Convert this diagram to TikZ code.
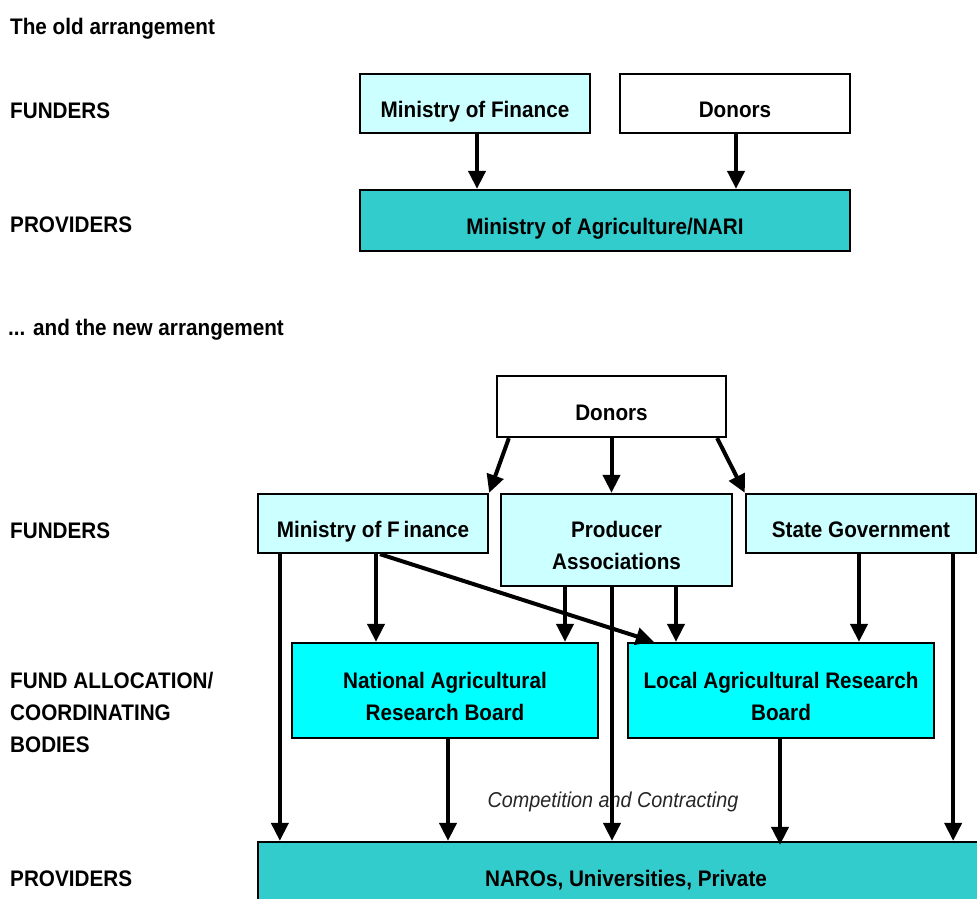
\documentclass[tikz,border=0pt]{standalone}
\usepackage{fontspec}
\setmainfont{Liberation Sans}[FakeStretch=0.92]
\usetikzlibrary{arrows.meta}
\definecolor{lcyan}{HTML}{CCFFFF}
\definecolor{cyanb}{HTML}{00FFFF}
\definecolor{tealb}{HTML}{33CCCC}
\begin{document}
\begin{tikzpicture}[x=1pt,y=-1pt,
  box/.style={draw=black,line width=2.3pt,rectangle,inner sep=0pt,align=center,
    font=\fontsize{22.5}{32}\selectfont\bfseries},
  one/.style={text height=28pt,text depth=0pt},
  two/.style={text height=59pt,text depth=0pt},
  lab/.style={anchor=base west,inner sep=0pt,align=left,font=\fontsize{22.5}{32}\selectfont\bfseries},
  arr/.style={line width=4pt,-{Triangle[width=17pt,length=18pt]}}]
\useasboundingbox (0,0) rectangle (977,899);
% old arrangement
\node[lab] (t1) at (10,35) {The old arrangement};
\node[lab] (f1) at (10,118) {FUNDERS};
\node[lab] (p1) at (10,232) {PROVIDERS};
\node[box,one,fill=lcyan,minimum width=230pt,minimum height=59pt] (mof) at (475,103.5) {Ministry of Finance};
\node[box,one,fill=white,minimum width=230pt,minimum height=59pt] (don) at (735,103.5) {Donors};
\node[box,one,fill=tealb,minimum width=490pt,minimum height=61pt] (moa) at (605,220.5) {Ministry of Agriculture/NARI};
\draw[arr] ([xshift=2pt]mof.south) -- ([xshift=2pt]mof.south |- moa.north);
\draw[arr] ([xshift=1pt]don.south) -- ([xshift=1pt]don.south |- moa.north);
% new arrangement
\node[lab] (t2) at (8,335) {... and the new arrangement};
\node[lab] (f2) at (10,538) {FUNDERS};
\node[lab] (fa) at (10,752) {FUND ALLOCATION/\\COORDINATING\\BODIES};
\node[lab] (p2) at (10,886) {PROVIDERS};
\node[box,one,fill=white,minimum width=229pt,minimum height=61pt] (dn) at (611.5,406.5) {Donors};
\node[box,one,fill=lcyan,minimum width=230pt,minimum height=59pt] (mf) at (373,523.5) {Ministry of F\,inance};
\node[box,two,fill=lcyan,minimum width=231pt,minimum height=92pt] (pa) at (616.5,540) {Producer\\Associations};
\node[box,one,fill=lcyan,minimum width=230pt,minimum height=59pt] (sg) at (861,523.5) {State Government};
\node[box,two,fill=cyanb,minimum width=306pt,minimum height=95pt] (narb) at (445,690.5) {National Agricultural\\Research Board};
\node[box,two,fill=cyanb,minimum width=306pt,minimum height=95pt] (larb) at (781,690.5) {Local Agricultural Research\\Board};
\node[box,fill=tealb,minimum width=740pt,minimum height=64pt] (nar) at (628,874) {};
\node[anchor=base,inner sep=0pt,font=\fontsize{22.5}{32}\selectfont\bfseries] (nartxt) at (626,886) {NAROs, Universities, Private};
\node[anchor=base,inner sep=0pt,font=\fontsize{21.5}{30}\selectfont\itshape,text=black!85] (cc) at (613,807) {Competition and Contracting};
% arrows
\draw[arr] ([xshift=13pt]dn.south west) -- (mf.north east);
\draw[arr] (dn.south) -- (dn.south |- pa.north);
\draw[arr] ([xshift=-10pt]dn.south east) -- (sg.north west);
\draw[arr] ([xshift=23pt]mf.south west) -- ([xshift=23pt]mf.south west |- nar.north);
\draw[arr] ([xshift=3pt]mf.south) -- ([xshift=3pt]mf.south |- narb.north);
\draw[arr] ([xshift=7pt]mf.south) -- ([xshift=27pt]larb.north west);
\draw[arr] ([xshift=-51.5pt]pa.south) -- ([xshift=-51.5pt]pa.south |- narb.north);
\draw[arr] ([xshift=-4.5pt]pa.south) -- ([xshift=-4.5pt]pa.south |- nar.north);
\draw[arr] ([xshift=59.5pt]pa.south) -- ([xshift=59.5pt]pa.south |- larb.north);
\draw[arr] ([xshift=-2pt]sg.south) -- ([xshift=-2pt]sg.south |- larb.north);
\draw[arr] ([xshift=-24pt]sg.south east) -- ([xshift=-24pt]sg.south east |- nar.north);
\draw[arr] ([xshift=3pt]narb.south) -- ([xshift=3pt]narb.south |- nar.north);
\draw[arr] ([xshift=-1pt]larb.south) -- ([xshift=-1pt,yshift=-4pt]larb.south |- nar.north);
\end{tikzpicture}
\end{document}
